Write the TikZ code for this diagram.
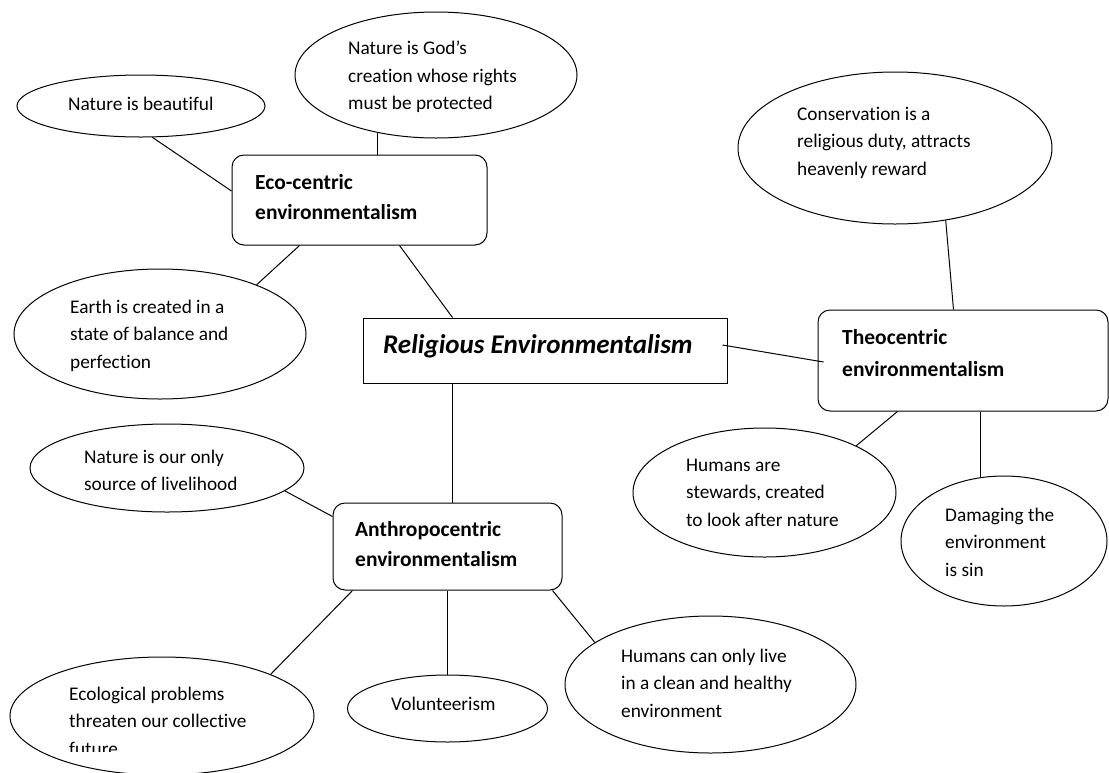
\documentclass[tikz,border=0pt]{standalone}
\usepackage{fontspec}
\setmainfont{Carlito}[Ligatures=NoCommon]
\usetikzlibrary{shapes.geometric,calc}
\begin{document}
\begin{tikzpicture}[x=1pt,y=-1pt,
  ell/.style={draw, ellipse, inner sep=0pt, line width=1pt},
  rbox/.style={draw, rounded corners=12pt, inner sep=0pt, line width=1pt},
  sbox/.style={draw, inner sep=0pt, line width=1pt},
  txt/.style={anchor=north west, inner sep=0pt, align=left, font=\fontsize{19.3}{27.5}\selectfont},
  btxt/.style={anchor=north west, inner sep=0pt, align=left, font=\bfseries\fontsize{21.5}{30}\selectfont},
  link/.style={line width=1pt}]
\useasboundingbox (0,0) rectangle (1109,772);

% ellipses
\node[ell, minimum width=248pt, minimum height=62pt]  (nb)    at (141,106) {};
\node[ell, minimum width=282pt, minimum height=126pt] (gods)  at (436,75) {};
\node[ell, minimum width=292pt, minimum height=130pt] (earth) at (160,334) {};
\node[ell, minimum width=314pt, minimum height=152pt] (cons)  at (895,148) {};
\node[ell, minimum width=263pt, minimum height=129pt] (stew)  at (764.5,492.5) {};
\node[ell, minimum width=206pt, minimum height=130pt] (dmg)   at (1004,541) {};
\node[ell, minimum width=274pt, minimum height=88pt]  (only)  at (167,468) {};
\node[ell, minimum width=304pt, minimum height=118pt] (ecol)  at (162,716) {};
\node[ell, minimum width=200pt, minimum height=67pt]  (vol)   at (447.5,708.5) {};
\node[ell, minimum width=291pt, minimum height=137pt] (live)  at (710.5,684.5) {};

% boxes
\node[rbox, minimum width=255pt, minimum height=90pt]  (eco)  at (359.5,200) {};
\node[sbox, minimum width=364pt, minimum height=65pt]  (rel)  at (545,350.5) {};
\node[rbox, minimum width=290pt, minimum height=101pt] (theo) at (963,360.5) {};
\node[rbox, minimum width=229pt, minimum height=87pt]  (anth) at (447.5,546.5) {};

% texts
\node[txt] (tnb)    at (68,94)    {\rule{0pt}{16pt}Nature is beautiful};
\node[txt] (tgods)  at (348,38.5) {\rule{0pt}{16pt}Nature is God’s\\creation whose rights\\must be protected};
\node[txt] (tearth) at (70,297)   {\rule{0pt}{16pt}Earth is created in a\\state of balance and\\perfection};
\node[txt] (tcons)  at (797,104)  {\rule{0pt}{16pt}Conservation is a\\religious duty, attracts\\heavenly reward};
\node[txt] (tstew)  at (686,455)  {\rule{0pt}{16pt}Humans are\\stewards, created\\to look after nature};
\node[txt] (tdmg)   at (945,505)  {\rule{0pt}{16pt}Damaging the\\environment\\is sin};
\node[txt] (tonly)  at (84,447)   {\rule{0pt}{16pt}Nature is our only\\source of livelihood};
\begin{scope}
\clip (0,0) rectangle (1109,751);
\node[txt] (tecol)  at (69,684)   {\rule{0pt}{16pt}Ecological problems\\threaten our collective\\future};
\end{scope}
\node[txt] (tvol)   at (391,694)  {\rule{0pt}{16pt}Volunteerism};
\node[txt] (tlive)  at (621,646)  {\rule{0pt}{16pt}Humans can only live\\in a clean and healthy\\environment};

\node[btxt] (teco)  at (255,171) {\rule{0pt}{18pt}Eco-centric\\environmentalism};
\node[btxt, font=\bfseries\fontsize{21.5}{32}\selectfont] (ttheo) at (842,326) {\rule{0pt}{18pt}Theocentric\\environmentalism};
\node[btxt] (tanth) at (355,518) {\rule{0pt}{18pt}Anthropocentric\\environmentalism};
\node[anchor=north west, inner sep=0pt, font=\bfseries\itshape\fontsize{27}{32}\selectfont] (trel) at (383,331) {\rule{0pt}{22pt}Religious Environmentalism};

% connectors
\draw[link] (nb.-70) -- ([yshift=9pt]eco.west);
\coordinate (g1) at ([xshift=146pt]eco.north west);
\draw[link] (g1) -- (g1 |- gods.-135);
\draw[link] ([xshift=68pt]eco.south west) -- (earth.27);
\draw[link] ([xshift=168pt]eco.south west) -- ([xshift=90pt]rel.north west);
\draw[link] ([xshift=-5pt,yshift=5.5pt]rel.east) -- ([xshift=6pt,yshift=-1.5pt]theo.west);
\coordinate (r1) at ([xshift=90pt]rel.south west);
\draw[link] (r1) -- (r1 |- anth.north);
\draw[link] (cons.-55) -- ([xshift=136pt]theo.north west);
\draw[link] ([xshift=80pt]theo.south west) -- (stew.27);
\coordinate (t1) at ([xshift=163pt]theo.south west);
\draw[link] (t1) -- (t1 |- dmg.110);
\draw[link] (only.-11) -- ([yshift=30pt]anth.west);
\draw[link] ([xshift=20pt]anth.south west) -- (ecol.21);
\draw[link] (anth.south) -- (vol.north);
\draw[link] ([xshift=-10pt]anth.south east) -- (live.160);
\end{tikzpicture}
\end{document}
